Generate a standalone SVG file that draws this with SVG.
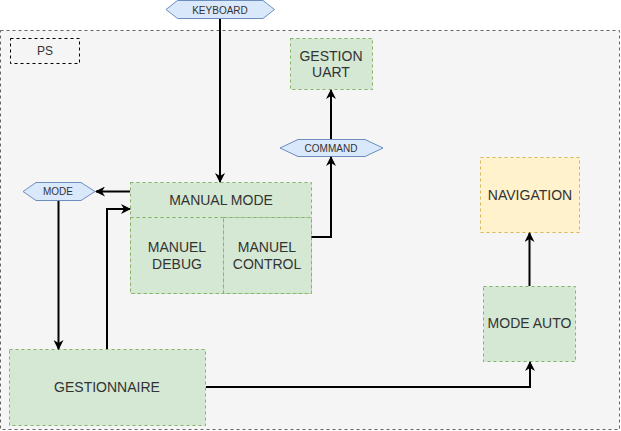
<svg xmlns="http://www.w3.org/2000/svg" width="621" height="431" viewBox="0 0 621 431">
<style>
text{font-family:"Liberation Sans",Arial,sans-serif;fill:#333333;text-anchor:middle;dominant-baseline:central}
.t{font-size:14px}
.s{font-size:10px}
.g{fill:#d5e8d4;stroke:#82b366;stroke-dasharray:3 3}
.y{fill:#fff2cc;stroke:#d6b656;stroke-dasharray:3 3}
.h{fill:#dae8fc;stroke:#6c8ebf}
.c{fill:none;stroke:#000;stroke-width:2;marker-end:url(#a)}
</style>
<defs>
<marker id="a" viewBox="0 0 10 10" refX="9" refY="5" markerWidth="5" markerHeight="5" markerUnits="strokeWidth" orient="auto">
<path d="M0,0 L10,5 L0,10 L3,5 Z" fill="#000"/>
</marker>
</defs>
<g id="ps">
<rect x="0.5" y="30.5" width="619" height="399" fill="#f5f5f5" stroke="#666666" stroke-dasharray="3 3"/>
<rect x="10.5" y="38.5" width="69" height="25" fill="none" stroke="#000" stroke-dasharray="3 3"/>
<text x="45" y="51" style="font-size:12px">PS</text>
</g>
<g id="keyboard">
<polygon class="h" points="166,9.5 177.5,0.5 263,0.5 274.5,9.5 263,18.5 177.5,18.5"/>
<text class="s" x="220" y="10">KEYBOARD</text>
</g>
<g id="gestion-uart">
<rect class="g" x="290.5" y="38.5" width="82" height="51"/>
<text class="t" x="331" y="56">GESTION</text>
<text class="t" x="331" y="72">UART</text>
</g>
<g id="command">
<polygon class="h" points="280,148 298,139.5 365,139.5 383,148 365,156.5 298,156.5"/>
<text class="s" x="331" y="148">COMMAND</text>
</g>
<g id="mode">
<polygon class="h" points="23,191.5 36,182.5 81,182.5 95,191.5 81,200.5 36,200.5"/>
<text class="s" x="58" y="191.5">MODE</text>
</g>
<g id="manual-mode">
<rect class="g" x="130.5" y="182.5" width="181" height="111"/>
<line x1="130.5" y1="217.5" x2="311.5" y2="217.5" stroke="#82b366" stroke-dasharray="3 3"/>
<text class="t" x="221" y="200">MANUAL MODE</text>
</g>
<g id="manuel-debug">
<rect class="g" x="130.5" y="217.5" width="93" height="76"/>
<text class="t" x="177" y="247">MANUEL</text>
<text class="t" x="177" y="264">DEBUG</text>
</g>
<g id="manuel-control">
<rect class="g" x="223.5" y="217.5" width="88" height="76"/>
<text class="t" x="267" y="247">MANUEL</text>
<text class="t" x="267" y="264">CONTROL</text>
</g>
<g id="navigation">
<rect class="y" x="480.5" y="157.5" width="99" height="75"/>
<text class="t" x="530" y="195">NAVIGATION</text>
</g>
<g id="mode-auto">
<rect class="g" x="483.5" y="286.5" width="92" height="75"/>
<text class="t" x="529.5" y="323">MODE AUTO</text>
</g>
<g id="gestionnaire">
<rect class="g" x="9.5" y="349.5" width="196" height="76"/>
<text class="t" x="107" y="387">GESTIONNAIRE</text>
</g>
<g id="connectors">
<path class="c" d="M220,19 L220,182"/>
<path class="c" d="M331,139 L331,90"/>
<path class="c" d="M311.5,237 L331,237 L331,157"/>
<path class="c" d="M130,191.5 L96,191.5"/>
<path class="c" d="M58.5,201 L58.5,349"/>
<path class="c" d="M107,349 L107,209 L130,209"/>
<path class="c" d="M206,387 L530,387 L530,362"/>
<path class="c" d="M529.5,286 L529.5,233"/>
</g>
</svg>
